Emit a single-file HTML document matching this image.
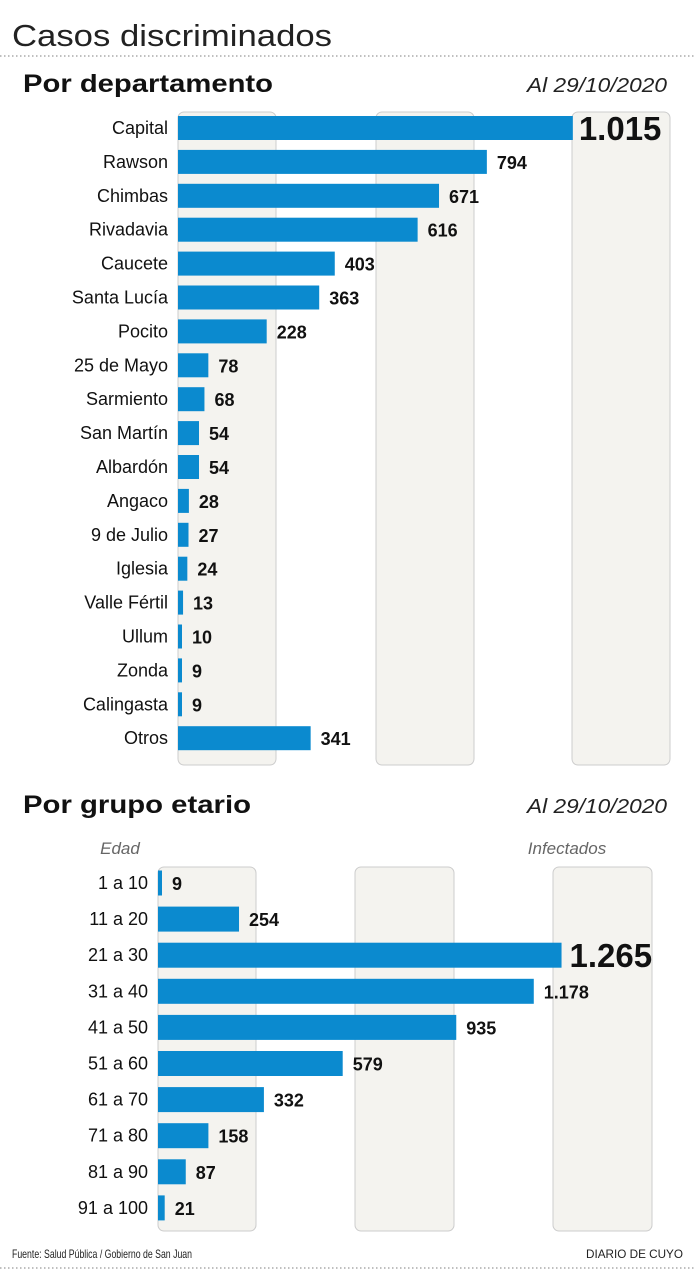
<!DOCTYPE html>
<html><head><meta charset="utf-8"><style>
html,body{margin:0;padding:0;background:#fff}
svg{display:block}
text{font-family:"Liberation Sans",sans-serif}
</style></head><body>
<svg width="695" height="1275" viewBox="0 0 695 1275">
<text x="12" y="46" font-size="31" fill="#222" textLength="320" lengthAdjust="spacingAndGlyphs">Casos discriminados</text>
<line x1="0" y1="56" x2="695" y2="56" stroke="#aaa" stroke-dasharray="1.5,2.5" stroke-width="1.5"/>
<text x="23" y="92" font-size="25" font-weight="bold" fill="#111" textLength="250" lengthAdjust="spacingAndGlyphs">Por departamento</text>
<text x="667" y="92" font-size="20" font-style="italic" fill="#222" text-anchor="end" textLength="140" lengthAdjust="spacingAndGlyphs">Al 29/10/2020</text>
<g fill="#f4f3ef" stroke="#ccc" stroke-width="1">
<rect x="178" y="112" width="98" height="653" rx="6"/>
<rect x="376" y="112" width="98" height="653" rx="6"/>
<rect x="572" y="112" width="98" height="653" rx="6"/>
<rect x="158" y="867" width="98" height="364" rx="6"/>
<rect x="355" y="867" width="99" height="364" rx="6"/>
<rect x="553" y="867" width="99" height="364" rx="6"/>
</g>
<g id="topg" font-size="18" fill="#111"></g>
<text x="23" y="813" font-size="25" font-weight="bold" fill="#111" textLength="228" lengthAdjust="spacingAndGlyphs">Por grupo etario</text>
<text x="667" y="813" font-size="20" font-style="italic" fill="#222" text-anchor="end" textLength="140" lengthAdjust="spacingAndGlyphs">Al 29/10/2020</text>
<text x="120" y="854" font-size="17" font-style="italic" fill="#666" text-anchor="middle">Edad</text>
<text x="567" y="854" font-size="17" font-style="italic" fill="#666" text-anchor="middle">Infectados</text>
<g id="botg" font-size="18" fill="#111"></g>
<text x="12" y="1258" font-size="12" fill="#222" textLength="180" lengthAdjust="spacingAndGlyphs">Fuente: Salud Pública / Gobierno de San Juan</text>
<text x="683" y="1258" font-size="12" fill="#222" text-anchor="end" textLength="97" lengthAdjust="spacingAndGlyphs">DIARIO DE CUYO</text>
<line x1="0" y1="1268" x2="695" y2="1268" stroke="#aaa" stroke-dasharray="1.5,2.5" stroke-width="1.5"/>
</svg>
<script>
(function(){
var NS="http://www.w3.org/2000/svg";
function add(g,tag,a,txt){var e=document.createElementNS(NS,tag);for(var k in a)e.setAttribute(k,a[k]);if(txt!=null)e.textContent=txt;g.appendChild(e);}
var dept=[["Capital",1015,"1.015"],["Rawson",794],["Chimbas",671],["Rivadavia",616],["Caucete",403],["Santa Lucía",363],["Pocito",228],["25 de Mayo",78],["Sarmiento",68],["San Martín",54],["Albardón",54],["Angaco",28],["9 de Julio",27],["Iglesia",24],["Valle Fértil",13],["Ullum",10],["Zonda",9],["Calingasta",9],["Otros",341]];
var g=document.getElementById("topg");
dept.forEach(function(d,i){var cy=128+i*33.9;var w=Math.max(4,d[1]*0.389);
add(g,"text",{x:168,y:cy+6,"text-anchor":"end"},d[0]);
add(g,"rect",{x:178,y:cy-12,width:w,height:24,fill:"#0b8acf"});
if(i==0)add(g,"text",{x:178+w+6,y:cy+12,"font-size":33,"font-weight":"bold"},d[2]);
else add(g,"text",{x:178+w+10,y:cy+7,"font-weight":"bold"},String(d[1]));});
var ages=[["1 a 10",9],["11 a 20",254],["21 a 30",1265,"1.265"],["31 a 40",1178,"1.178"],["41 a 50",935],["51 a 60",579],["61 a 70",332],["71 a 80",158],["81 a 90",87],["91 a 100",21]];
g=document.getElementById("botg");
ages.forEach(function(d,i){var cy=883+i*36.1;var w=Math.max(4,d[1]*0.319);
add(g,"text",{x:148,y:cy+6,"text-anchor":"end"},d[0]);
add(g,"rect",{x:158,y:cy-12.5,width:w,height:25,fill:"#0b8acf"});
if(i==2)add(g,"text",{x:158+w+8,y:cy+12,"font-size":33,"font-weight":"bold"},d[2]);
else add(g,"text",{x:158+w+10,y:cy+7,"font-weight":"bold"},d[2]||String(d[1]));});
})();
</script>
</body></html>
